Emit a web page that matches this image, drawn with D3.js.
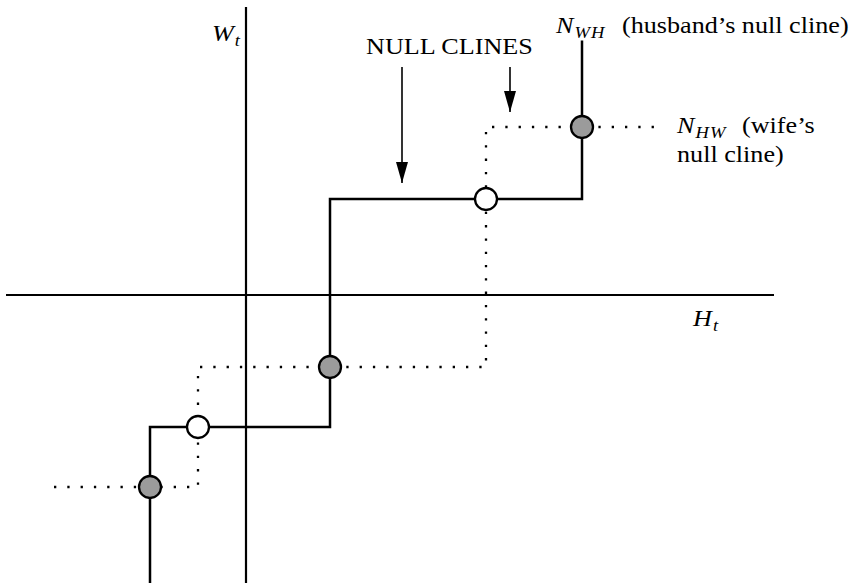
<!DOCTYPE html>
<html>
<head>
<meta charset="utf-8">
<script src="https://cdn.jsdelivr.net/npm/d3@7"></script>
<style>
  body { margin: 0; background: #fff; }
  text { font-family: "Liberation Serif", "Times New Roman", serif; fill: #000; }
</style>
</head>
<body>
<svg id="chart" width="855" height="586"></svg>
<script>
// husband's null cline N_WH (solid), in chart units
const husbandX = [-4, -4, 3.5, 3.5, 14, 14]
const husbandY = [-12, -5.5, -5.5, 4, 4, 10.6]
// wife's null cline N_HW (dotted)
const wifeX = [-8, -2, -2, 10, 10, 17.2]
const wifeY = [-8, -8, -3, -3, 7, 7]
// equilibria: where the clines cross
const eqX = [-4, -2, 3.5, 10, 14]
const eqY = [-8, -5.5, -3, 4, 7]
const eqStable = [true, false, true, false, true]

const width = 855, height = 586
const svg = d3.select('#chart')

const x = d3.scaleLinear().domain([-10, 22]).range([6, 774])
const y = d3.scaleLinear().domain([-12, 12]).range([583, 7])

const line = d3.line().x(d => x(d[0])).y(d => y(d[1])).curve(d3.curveLinear)

// axes (plain crossing lines)
svg.append('line')
   .attr('x1', x(-10)).attr('x2', x(22))
   .attr('y1', y(0)).attr('y2', y(0))
   .attr('stroke', '#000').attr('stroke-width', 2.2)
svg.append('line')
   .attr('x1', x(0)).attr('x2', x(0))
   .attr('y1', y(-12)).attr('y2', y(12))
   .attr('stroke', '#000').attr('stroke-width', 2.2)

// wife's null cline, dotted
svg.append('path')
   .attr('d', line(d3.zip(wifeX, wifeY)))
   .attr('fill', 'none')
   .attr('stroke', '#000')
   .attr('stroke-width', 2.3)
   .attr('stroke-dasharray', '2.3,11')

// husband's null cline, solid
svg.append('path')
   .attr('d', line(d3.zip(husbandX, husbandY)))
   .attr('fill', 'none')
   .attr('stroke', '#000')
   .attr('stroke-width', 2.5)

// equilibrium points
svg.selectAll('circle.eq')
   .data(d3.range(eqX.length))
   .join('circle')
   .attr('class', 'eq')
   .attr('cx', i => x(eqX[i]))
   .attr('cy', i => y(eqY[i]))
   .attr('r', 11)
   .attr('fill', i => eqStable[i] ? '#9b9b9b' : '#fff')
   .attr('stroke', '#000')
   .attr('stroke-width', 2.3)

// arrows pointing at the two clines
const defs = svg.append('defs')
defs.append('marker')
    .attr('id', 'head')
    .attr('viewBox', '0 0 12 21')
    .attr('refX', 6).attr('refY', 21)
    .attr('markerWidth', 12).attr('markerHeight', 21)
    .attr('markerUnits', 'userSpaceOnUse')
    .attr('orient', 0)
  .append('path')
    .attr('d', 'M0,0 L12,0 L6,21 Z')
    .attr('fill', '#000')

const arrows = [[6.5, 9.5, 4.67], [11, 9.5, 7.62]]
arrows.forEach(a => {
  svg.append('line')
     .attr('x1', x(a[0])).attr('x2', x(a[0]))
     .attr('y1', y(a[1])).attr('y2', y(a[2]))
     .attr('stroke', '#000').attr('stroke-width', 1.6)
     .attr('marker-end', 'url(#head)')
})

// labels; the reference type is a little wider than Times, so stretch x a bit
const fs = 24, sub = 17, stretch = 1.09
const put = (px, py) => svg.append('text')
  .attr('transform', `translate(${px},${py}) scale(${stretch},1)`)
  .style('font-size', fs + 'px')

const label = (px, py, main, subText) => {
  const t = put(px, py)
  t.append('tspan').style('font-style', 'italic').text(main)
  t.append('tspan').style('font-style', 'italic').style('font-size', sub + 'px')
   .style('letter-spacing', '1px')
   .attr('dx', 1).attr('dy', 5).text(subText)
  return t
}

label(212, 41, 'W', 't')
label(693, 326, 'H', 't')

put(366, 54).text('NULL CLINES')

label(556, 33, 'N', 'WH')
put(622, 33).text('(husband’s null cline)')

label(677, 133, 'N', 'HW')
put(742, 133).text('(wife’s')
put(677, 162).text('null cline)')
</script>
</body>
</html>
